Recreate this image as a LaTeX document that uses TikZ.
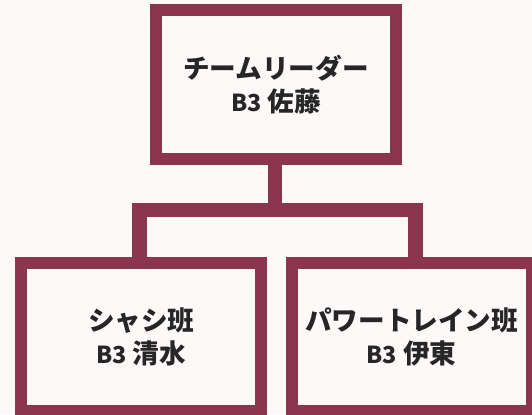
\documentclass[tikz,border=0pt]{standalone}
\usepackage{fontspec}
\newfontfamily\jp{Noto Sans CJK JP}
\definecolor{bg}{HTML}{FDF9F9}
\definecolor{maroon}{HTML}{8B3651}
\definecolor{ink}{HTML}{262626}
\newcommand{\lat}[1]{{\fontsize{23.5}{33}\selectfont #1}}
\tikzset{
  rolebox/.style={draw=maroon, line width=12bp, fill=bg, rectangle,
    minimum width=240bp, minimum height=148.5bp, inner sep=0pt,
    align=center, text=ink, font=\jp\bfseries\fontsize{26.7}{33}\selectfont},
  link/.style={draw=maroon, line width=14.5bp, line join=miter, line cap=butt}
}
\begin{document}
\begin{tikzpicture}[x=1bp,y=-1bp]
\useasboundingbox (0,0) rectangle (532,414);
\clip (0,0) rectangle (532,414);
\fill[bg] (0,0) rectangle (532,414);
\coordinate (bt) at (275.2,210);
\coordinate (bl) at (139.3,210);
\coordinate (br) at (415.5,210);
\node[rolebox] (top) at (276,84.3) {};
\node[rolebox] (left) at (141.2,336.9) {};
\node[rolebox] (right) at (411.6,336.9) {};
\draw[link] (top.south -| bt) -- (bt);
\draw[link] (left.north -| bl) -- (bl) -- (br) -- (right.north -| br);
\node[rolebox] at (top) {チームリーダー\\\lat{B3} 佐藤};
\node[rolebox] at (left) {シャシ班\\\lat{B3} 清水};
\node[rolebox] at (right) {パワートレイン班\\\lat{B3} 伊東};
\end{tikzpicture}
\end{document}
